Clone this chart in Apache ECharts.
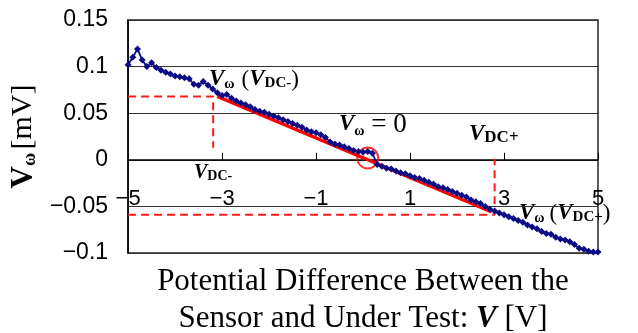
<html>
<head>
<meta charset="UTF-8" />
<title></title>
<script src="https://cdn.jsdelivr.net/npm/echarts@6/dist/echarts.min.js"></script>
<style type="text/css">
body{ margin:0; background:#fff; }
#main{ width:638px; height:333px; }
</style>
</head>
<body>
<div id="main"></div>
<script type="text/javascript">
// measured points: potential difference V [V] and V_omega [mV]
var voltage = [
  -5.0, -4.9, -4.8, -4.7, -4.6, -4.5, -4.4, -4.3, -4.2, -4.1,
  -4.0, -3.9, -3.8, -3.7, -3.6, -3.5, -3.4, -3.3, -3.2, -3.1,
  -3.0, -2.9, -2.8, -2.7, -2.6, -2.5, -2.4, -2.3, -2.2, -2.1,
  -2.0, -1.9, -1.8, -1.7, -1.6, -1.5, -1.4, -1.3, -1.2, -1.1,
  -1.0, -0.9, -0.8, -0.7, -0.6, -0.5, -0.4, -0.3, -0.2, -0.1,
  0.0, 0.1, 0.2, 0.3, 0.4, 0.5, 0.6, 0.7, 0.8, 0.9,
  1.0, 1.1, 1.2, 1.3, 1.4, 1.5, 1.6, 1.7, 1.8, 1.9,
  2.0, 2.1, 2.2, 2.3, 2.4, 2.5, 2.6, 2.7, 2.8, 2.9,
  3.0, 3.1, 3.2, 3.3, 3.4, 3.5, 3.6, 3.7, 3.8, 3.9,
  4.0, 4.1, 4.2, 4.3, 4.4, 4.5, 4.6, 4.7, 4.8, 4.9, 5.0
];
var vOmega = [
  0.102, 0.110, 0.119, 0.107, 0.100, 0.104, 0.099, 0.096, 0.094, 0.092,
  0.090, 0.089, 0.088, 0.087, 0.081, 0.080, 0.084, 0.080, 0.076, 0.072,
  0.069, 0.070, 0.066, 0.063, 0.061, 0.059, 0.057, 0.054, 0.052, 0.051,
  0.049, 0.047, 0.045, 0.043, 0.041, 0.039, 0.037, 0.035, 0.032, 0.030,
  0.029, 0.027, 0.024, 0.019, 0.017, 0.016, 0.014, 0.012, 0.010, 0.009,
  0.008, 0.009, 0.007, -0.005, -0.007, -0.009, -0.010, -0.012, -0.014, -0.015,
  -0.017, -0.019, -0.020, -0.022, -0.024, -0.026, -0.029, -0.030, -0.032, -0.034,
  -0.036, -0.038, -0.040, -0.043, -0.045, -0.047, -0.050, -0.053, -0.055, -0.057,
  -0.059, -0.061, -0.063, -0.065, -0.067, -0.070, -0.072, -0.074, -0.077, -0.079,
  -0.080, -0.083, -0.085, -0.086, -0.088, -0.091, -0.095, -0.096, -0.098, -0.099, -0.099
];
// linear fit and guide lines
var fitLine = [[-3.1, 0.068], [2.74, -0.056]];
var guideLeft = [[-5, 0.068], [-3.19, 0.068], [-3.19, 0.013]];
var guideRight = [[-5, -0.059], [2.8, -0.059], [2.8, 0.001]];
var zeroPoint = [[0.1, 0.002]];
// tick labels
var xTicks = [-5, -3, -1, 1, 3, 5];
var yTicks = [-0.1, -0.05, 0, 0.05, 0.1, 0.15];
var yTickLabels = ['−0.1', '−0.05', '0', '0.05', '0.1', '0.15'];

var points = [];
for (var i = 0; i < voltage.length; i++) {
  points.push([voltage[i], vOmega[i]]);
}

var serif = 'Liberation Serif';
var sans = 'Liberation Sans';

var myChart = echarts.init(document.getElementById('main'));
myChart.setOption({
  animation: false,
  grid: {
    left: 127, right: 40, top: 20, bottom: 80,
    show: true, borderColor: '#222', borderWidth: 1.5
  },
  xAxis: {
    type: 'value', min: -5, max: 5,
    position: 'bottom',
    offset: -93.2,   // puts the axis on y = 0
    axisLine: { onZero: false, lineStyle: { color: '#000', width: 1.5 } },
    axisTick: { show: true, inside: true, length: 7, customValues: xTicks, lineStyle: { color: '#000' } },
    axisLabel: {
      customValues: xTicks, margin: 28, fontSize: 22, fontFamily: sans, color: '#000',
      formatter: function (v) { return String(v).replace('-', '−'); }
    },
    splitLine: { show: false }
  },
  yAxis: {
    type: 'value', min: -0.1, max: 0.15,
    axisLine: { show: true, onZero: false, lineStyle: { color: '#000', width: 1.5 } },
    axisTick: { show: false },
    axisLabel: {
      customValues: yTicks, margin: 20, fontSize: 23, fontFamily: sans, color: '#000',
      formatter: function (v) {
        for (var k = 0; k < yTicks.length; k++) {
          if (Math.abs(yTicks[k] - v) < 1e-9) return yTickLabels[k];
        }
        return '';
      }
    },
    splitLine: { show: true, lineStyle: { color: '#333', width: 1 } },
    name: '{v|V}{w|ω} {u|[mV]}',
    nameLocation: 'middle', nameRotate: 90, nameGap: 82,
    nameTextStyle: {
      rich: {
        v: { fontFamily: serif, fontWeight: 'bold', fontSize: 31, color: '#000', verticalAlign: 'middle' },
        w: { fontFamily: serif, fontWeight: 'bold', fontSize: 18, color: '#000', verticalAlign: 'bottom', lineHeight: 14 },
        u: { fontFamily: serif, fontSize: 30, color: '#000', verticalAlign: 'middle' }
      }
    }
  },
  series: [
    {
      name: 'guideLeft', type: 'line', data: guideLeft, symbol: 'none', silent: true,
      lineStyle: { color: '#ff1a1a', width: 2, type: [8, 5] }
    },
    {
      name: 'guideRight', type: 'line', data: guideRight, symbol: 'none', silent: true,
      lineStyle: { color: '#ff1a1a', width: 2, type: [8, 5] }
    },
    {
      name: 'V_omega', type: 'line', data: points,
      symbol: 'diamond', symbolSize: 7,
      itemStyle: { color: '#0a0a85' },
      lineStyle: { color: '#0a0a85', width: 1.8 }
    },
    {
      name: 'fit', type: 'line', data: fitLine, symbol: 'none',
      lineStyle: { color: '#ff0000', width: 3.5 }
    },
    {
      name: 'zero', type: 'scatter', data: zeroPoint, symbol: 'circle', symbolSize: 21,
      itemStyle: { color: 'rgba(0,0,0,0)', borderColor: '#ff0000', borderWidth: 2 }
    }
  ],
  graphic: [
    {
      type: 'text', left: 209, top: 68,
      style: {
        text: '{v|V}{w|ω}{sp| }{p|(}{v|V}{s|DC-}{p|)}',
        rich: {
          v: { fontFamily: serif, fontStyle: 'italic', fontWeight: 'bold', fontSize: 23, fill: '#000', verticalAlign: 'middle' },
          w: { fontFamily: serif, fontWeight: 'bold', fontSize: 14, fill: '#000', verticalAlign: 'bottom', lineHeight: 14 },
          s: { fontFamily: serif, fontWeight: 'bold', fontSize: 15, fill: '#000', verticalAlign: 'bottom', lineHeight: 16 },
          p: { fontFamily: serif, fontSize: 23, fill: '#000', verticalAlign: 'middle' },
          sp: { fontSize: 23, width: 7 }
        }
      }
    },
    {
      type: 'text', left: 339, top: 111,
      style: {
        text: '{v|V}{w|ω}{e| = 0}',
        rich: {
          v: { fontFamily: serif, fontStyle: 'italic', fontWeight: 'bold', fontSize: 23, fill: '#000', verticalAlign: 'middle' },
          w: { fontFamily: serif, fontWeight: 'bold', fontSize: 14, fill: '#000', verticalAlign: 'bottom', lineHeight: 14 },
          e: { fontFamily: serif, fontSize: 27, fill: '#000', verticalAlign: 'middle' }
        }
      }
    },
    {
      type: 'text', left: 469, top: 123,
      style: {
        text: '{v|V}{s|DC+}',
        rich: {
          v: { fontFamily: serif, fontStyle: 'italic', fontWeight: 'bold', fontSize: 23, fill: '#000', verticalAlign: 'bottom' },
          s: { fontFamily: serif, fontWeight: 'bold', fontSize: 17, fill: '#000', verticalAlign: 'bottom' }
        }
      }
    },
    {
      type: 'text', left: 194, top: 163,
      style: {
        text: '{v|V}{s|DC-}',
        rich: {
          v: { fontFamily: serif, fontStyle: 'italic', fontWeight: 'bold', fontSize: 20, fill: '#000', verticalAlign: 'middle' },
          s: { fontFamily: serif, fontWeight: 'bold', fontSize: 14, fill: '#000', verticalAlign: 'bottom', lineHeight: 14 }
        }
      }
    },
    {
      type: 'text', left: 519, top: 202,
      style: {
        text: '{v|V}{w|ω}{sp| }{p|(}{v|V}{s|DC+}{p|)}',
        rich: {
          v: { fontFamily: serif, fontStyle: 'italic', fontWeight: 'bold', fontSize: 23, fill: '#000', verticalAlign: 'middle' },
          w: { fontFamily: serif, fontWeight: 'bold', fontSize: 14, fill: '#000', verticalAlign: 'bottom', lineHeight: 12 },
          s: { fontFamily: serif, fontWeight: 'bold', fontSize: 15, fill: '#000', verticalAlign: 'bottom', lineHeight: 16 },
          p: { fontFamily: serif, fontSize: 23, fill: '#000', verticalAlign: 'middle' },
          sp: { fontSize: 23, width: 5 }
        }
      }
    },
    {
      type: 'text', x: 363, y: 263,
      style: {
        text: '{t|Potential Difference Between the}\n{t|Sensor and Under Test: }{b|V}{t| [V]}',
        align: 'center',
        rich: {
          t: { fontFamily: serif, fontSize: 31, fill: '#000', lineHeight: 37, align: 'center' },
          b: { fontFamily: serif, fontStyle: 'italic', fontWeight: 'bold', fontSize: 31, fill: '#000', lineHeight: 37 }
        }
      }
    }
  ]
});
</script>
</body>
</html>
